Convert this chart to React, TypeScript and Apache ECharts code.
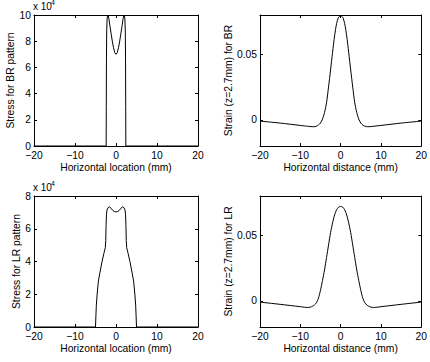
import React, { useEffect, useRef } from "react";
import * as echarts from "echarts";

const xTicks = [-20, -10, 0, 10, 20];
const strainTicks = [0, 0.05];

// Stress for BR pattern (Pa)
const brStressX = [-20, -2.4, -2.37, -2.33, -2.27, -2.18, -2.08, -1.95, -1.75, -1.5, -1.2, -0.9, -0.6, -0.3, 0, 0.3, 0.6, 0.9, 1.2, 1.5, 1.75, 1.95, 2.08, 2.18, 2.27, 2.33, 2.37, 2.4, 20];
const brStressY = [0, 0, 30000, 65000, 87000, 96000, 99500, 100000, 97500, 92000, 86000, 80000, 75000, 71200, 70000, 71200, 75000, 80000, 86000, 92000, 97500, 100000, 99500, 96000, 87000, 65000, 30000, 0, 0];

// Stress for LR pattern (Pa)
const lrStressX = [-20, -5.0, -4.9, -4.8, -4.6, -4.3, -3.9, -3.4, -2.9, -2.6, -2.5, -2.42, -2.33, -2.2, -1.9, -1.55, -1.2, -0.8, -0.4, 0, 0.4, 0.8, 1.2, 1.55, 1.9, 2.2, 2.33, 2.42, 2.5, 2.6, 2.9, 3.4, 3.9, 4.3, 4.6, 4.8, 4.9, 5.0, 20];
const lrStressY = [0, 0, 7000, 13000, 20000, 28000, 33500, 40000, 45500, 48500, 53000, 62000, 68500, 71500, 73000, 73300, 72500, 71200, 70500, 70300, 70500, 71200, 72500, 73300, 73000, 71500, 68500, 62000, 53000, 48500, 45500, 40000, 33500, 28000, 20000, 13000, 7000, 0, 0];

// Strain (z=2.7mm) for BR
const brStrainX = [-20, -15, -10, -8, -6.7, -6, -5.5, -5, -4.5, -4, -3.5, -3, -2.5, -2, -1.5, -1, -0.5, 0, 0.5, 1, 1.5, 2, 2.5, 3, 3.5, 4, 4.5, 5, 5.5, 6, 6.7, 8, 10, 15, 20];
const brStrainY = [-0.001, -0.0025, -0.0043, -0.005, -0.0053, -0.0049, -0.004, -0.0025, 0.0005, 0.0055, 0.013, 0.025, 0.038, 0.0515, 0.064, 0.0735, 0.0783, 0.0795, 0.0783, 0.0735, 0.064, 0.0515, 0.038, 0.025, 0.013, 0.0055, 0.0005, -0.0025, -0.004, -0.0049, -0.0053, -0.005, -0.0043, -0.0025, -0.001];

// Strain (z=2.7mm) for LR
const lrStrainX = [-20, -15, -10, -9, -8.2, -7.5, -7, -6.5, -6, -5.5, -5, -4.5, -4, -3.5, -3, -2.5, -2, -1.5, -1, -0.5, 0, 0.5, 1, 1.5, 2, 2.5, 3, 3.5, 4, 4.5, 5, 5.5, 6, 6.5, 7, 7.5, 8.2, 9, 10, 15, 20];
const lrStrainY = [-0.001, -0.0027, -0.0045, -0.0049, -0.0051, -0.0048, -0.0042, -0.0032, -0.0015, 0.002, 0.008, 0.0155, 0.0235, 0.033, 0.0425, 0.052, 0.0595, 0.0655, 0.0695, 0.0715, 0.072, 0.0715, 0.0695, 0.0655, 0.0595, 0.052, 0.0425, 0.033, 0.0235, 0.0155, 0.008, 0.002, -0.0015, -0.0032, -0.0042, -0.0048, -0.0051, -0.0049, -0.0045, -0.0027, -0.001];

const FONT = '"Liberation Sans", Arial, Helvetica, sans-serif';
const FS = 10.3;

const zip = (xs: number[], ys: number[]) => xs.map((x, i) => [x, ys[i]]);
const fmtX = (v: number) => (v < 0 ? "\u2212" + Math.abs(v) : String(v));

export default function App() {
  const ref = useRef<HTMLDivElement>(null);
  useEffect(() => {
    document.body.style.margin = "0";
    const chart = echarts.init(ref.current!, null, { renderer: "svg" });

    const grids = [
      { left: 34, top: 15, width: 164, height: 131 },
      { left: 260, top: 15, width: 166, height: 131 },
      { left: 34, top: 196, width: 164, height: 131 },
      { left: 260, top: 196, width: 166, height: 131 },
    ];

    const lineCommon = { lineStyle: { color: "#000", width: 1 } };
    const tickCommon = { show: true, inside: true, length: 3, lineStyle: { color: "#000", width: 1 } };
    const labelCommon = { color: "#000", fontSize: FS, fontFamily: FONT, lineHeight: 9 };
    const nameStyle = { color: "#000", fontSize: FS, fontFamily: FONT };

    const xAxes: any[] = [];
    const yAxes: any[] = [];
    const xNames = ["Horizontal location (mm)", "Horizontal distance (mm)", "Horizontal location (mm)", "Horizontal distance (mm)"];
    const yNames = ["Stress for BR pattern", "Strain (z=2.7mm) for BR", "Stress for LR pattern", "Strain (z=2.7mm) for LR"];
    const yMax = [100000, 0.08, 80000, 0.08];

    for (let g = 0; g < 4; g++) {
      const xBase = {
        type: "value",
        gridIndex: g,
        min: xTicks[0],
        max: xTicks[xTicks.length - 1],
        interval: 10,
        splitLine: { show: false },
        axisLine: { show: true, onZero: false, ...lineCommon },
        axisTick: tickCommon,
      };
      xAxes.push({
        ...xBase,
        position: "bottom",
        axisLabel: { ...labelCommon, margin: 5, formatter: fmtX },
        name: xNames[g],
        nameLocation: "middle",
        nameGap: 16.5,
        nameTextStyle: nameStyle,
      });
      xAxes.push({ ...xBase, position: "top", axisLabel: { show: false } });

      const isStress = g % 2 === 0;
      const yBase: any = isStress
        ? { type: "value", gridIndex: g, min: 0, max: yMax[g], interval: 20000 }
        : { type: "value", gridIndex: g, min: -0.02, max: 0.08 };
      yBase.splitLine = { show: false };
      yBase.axisLine = { show: true, onZero: false, ...lineCommon };
      yBase.axisTick = isStress ? tickCommon : { ...tickCommon, customValues: strainTicks };
      yAxes.push({
        ...yBase,
        position: "left",
        axisLabel: isStress
          ? { ...labelCommon, margin: 3, formatter: (v: number) => String(Math.round(v / 10000)) }
          : { ...labelCommon, margin: 3, customValues: strainTicks, formatter: (v: number) => String(v) },
        name: yNames[g],
        nameLocation: "middle",
        nameGap: isStress ? 13 : 24,
        nameRotate: 90,
        nameTextStyle: nameStyle,
      });
      yAxes.push({ ...yBase, position: "right", axisLabel: { show: false } });
    }

    const datasets = [
      zip(brStressX, brStressY),
      zip(brStrainX, brStrainY),
      zip(lrStressX, lrStressY),
      zip(lrStrainX, lrStrainY),
    ];

    const series = datasets.map((d, g) => ({
      type: "line",
      xAxisIndex: g * 2,
      yAxisIndex: g * 2,
      data: d,
      showSymbol: false,
      symbol: "none",
      smooth: g % 2 === 1 ? 0.25 : false,
      lineStyle: { color: "#000", width: 1 },
      silent: true,
    }));

    const expText = (top: number) => [
      {
        type: "text",
        left: 33,
        top: top,
        style: { text: "x 10", fontSize: 10, fontFamily: FONT, fill: "#000" },
      },
      {
        type: "text",
        left: 51,
        top: top - 2.5,
        style: { text: "4", fontSize: 7, fontFamily: FONT, fill: "#000" },
      },
    ];

    chart.setOption({
      animation: false,
      backgroundColor: "#fff",
      grid: grids,
      xAxis: xAxes,
      yAxis: yAxes,
      series,
      graphic: [...expText(1.5), ...expText(182.5)],
    });
    return () => chart.dispose();
  }, []);
  return <div ref={ref} style={{ width: 430, height: 362 }} />;
}
